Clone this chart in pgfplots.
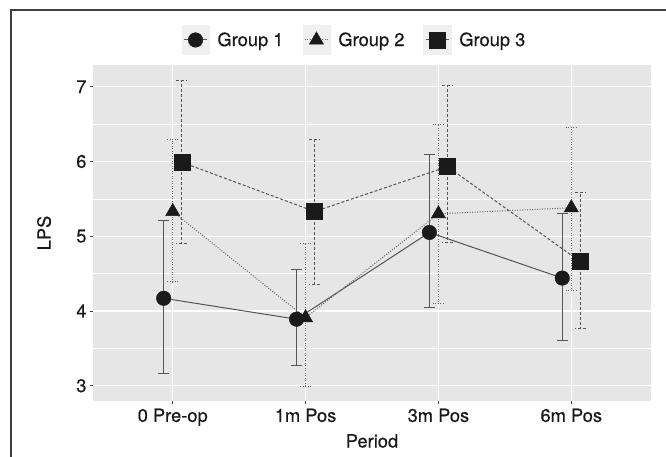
\documentclass[border=0pt]{standalone}
\usepackage{pgfplots}
\pgfplotsset{compat=1.18}
\usepackage{pgfplotstable}
\usepackage{fontspec}
\setmainfont{TeX Gyre Heros}[FakeBold=0.4]
\definecolor{panelbg}{RGB}{230,230,230}
\definecolor{keybg}{RGB}{240,240,240}
\definecolor{ln}{RGB}{85,85,85}
\definecolor{mk}{RGB}{26,26,26}
\definecolor{txt}{RGB}{25,25,25}

\pgfplotstableread{
x y ep em
0.932 4.17 1.04 1.01
1.932 3.89 0.67 0.62
2.932 5.05 1.04 1.01
3.932 4.44 0.86 0.84
}\gA
\pgfplotstableread{
x y ep em
1 5.33 0.97 0.94
2 3.91 0.99 0.92
3 5.30 1.20 1.20
4 5.38 1.07 1.10
}\gB
\pgfplotstableread{
x y ep em
1.068 5.99 1.09 1.09
2.068 5.33 0.97 0.97
3.068 5.93 1.08 1.01
4.068 4.66 0.92 0.90
}\gC

\tikzset{
 gAline/.style={draw=ln, line width=1pt, solid},
 gBline/.style={draw=ln!90!white, line width=1pt, dash pattern=on 1pt off 1.5pt},
 gCline/.style={draw=ln, line width=1pt, dash pattern=on 3pt off 2pt},
}
\pgfplotsset{
 legA/.style={legend image code/.code={\fill[keybg] (0pt,-14.5pt) rectangle (27.5pt,14.5pt); \draw[gAline] (2pt,0pt) -- (25.5pt,0pt); \draw[##1] plot coordinates {(13.75pt,0pt)};}},
 legB/.style={legend image code/.code={\fill[keybg] (0pt,-14.5pt) rectangle (27.5pt,14.5pt); \draw[gBline] (2pt,0pt) -- (25.5pt,0pt); \draw[##1] plot coordinates {(13.75pt,0pt)};}},
 legC/.style={legend image code/.code={\fill[keybg] (0pt,-14.5pt) rectangle (27.5pt,14.5pt); \draw[gCline] (2pt,0pt) -- (25.5pt,0pt); \draw[##1] plot coordinates {(13.75pt,0pt)};}},
}
\newcommand\fs{\fontsize{18.3}{21}\selectfont}

\begin{document}
\begin{tikzpicture}
\begin{axis}[
 scale only axis, width=558pt, height=336pt,
 at={(93pt,56pt)}, anchor=south west,
 xmin=0.4, xmax=4.6, ymin=2.796, ymax=7.29,
 axis background/.style={fill=panelbg},
 axis line style={draw=none},
 xtick={1,2,3,4}, xticklabels={0 Pre-op,1m Pos,3m Pos,6m Pos},
 ytick={3,4,5,6,7}, minor ytick={3.5,4.5,5.5,6.5},
 xmajorgrids, ymajorgrids, yminorgrids,
 major grid style={white, line width=1.1pt},
 minor grid style={white, line width=0.55pt},
 tick pos=left, tick align=outside, major tick length=3pt, minor tick length=0pt,
 tick style={black!75, line width=0.8pt},
 ticklabel style={font=\fs, text=txt},
 xticklabel style={yshift=-1pt},
 /pgf/number format/assume math mode=true,
 xlabel={Period}, ylabel={LPS},
 label style={font=\fs, text=txt},
 xlabel style={at={(axis description cs:0.5,-0.119)}, anchor=center},
 ylabel style={at={(axis description cs:-0.0878,0.5)}, anchor=center},
 legend columns=3,
 legend style={at={(axis description cs:0.4668,1.0744)}, anchor=center, draw=none, fill=none, font=\fs, text=txt, inner sep=0pt, nodes={inner sep=0pt},
   /tikz/every odd column/.append style={column sep=8pt},
   /tikz/every even column/.append style={column sep=19pt}},
 error bars/y dir=both, error bars/y explicit,
]
\addplot[gAline, forget plot, error bars/error bar style={gAline}, error bars/error mark options={gAline, rotate=90, mark size=5.5pt}]
  table[x=x,y=y,y error plus=ep,y error minus=em]{\gA};
\addplot[gBline, forget plot, error bars/error bar style={gBline}, error bars/error mark options={gBline, rotate=90, mark size=5.5pt}]
  table[x=x,y=y,y error plus=ep,y error minus=em]{\gB};
\addplot[gCline, forget plot, error bars/error bar style={gCline}, error bars/error mark options={gCline, rotate=90, mark size=5.5pt}]
  table[x=x,y=y,y error plus=ep,y error minus=em]{\gC};

\addplot[only marks, mark=*, mark size=7.3pt, mark options={solid, fill=mk, draw=mk}, legA]
  table[x=x,y=y]{\gA};
\addlegendentry{Group 1}
\addplot[only marks, mark=triangle*, mark size=8.2pt, mark options={solid, fill=mk, draw=mk}, legB]
  table[x=x,y=y]{\gB};
\addlegendentry{Group 2}
\addplot[only marks, mark=square*, mark size=8pt, mark options={solid, fill=mk, draw=mk}, legC]
  table[x=x,y=y]{\gC};
\addlegendentry{Group 3}
\end{axis}
\draw[line width=1.5pt, black!75] (11pt,0pt) -- (11pt,447pt) -- (666pt,447pt);
\pgfresetboundingbox
\path (0pt,0pt) rectangle (666pt,457pt);
\end{tikzpicture}
\end{document}
